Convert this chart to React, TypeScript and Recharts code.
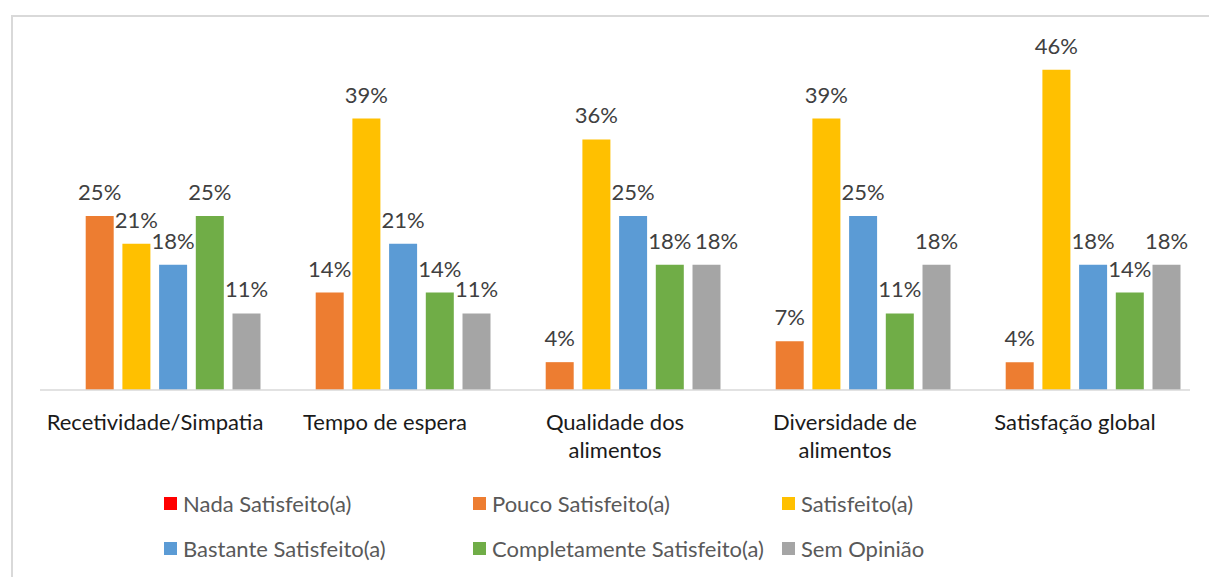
import React from "react";
import { BarChart, Bar, XAxis, YAxis, LabelList } from "recharts";

const categories = [
  "Recetividade/Simpatia",
  "Tempo de espera",
  "Qualidade dos alimentos",
  "Diversidade de alimentos",
  "Satisfação global",
];

const seriesNames = [
  "Nada Satisfeito(a)",
  "Pouco Satisfeito(a)",
  "Satisfeito(a)",
  "Bastante Satisfeito(a)",
  "Completamente Satisfeito(a)",
  "Sem Opinião",
];

const seriesColors = ["#FF0000", "#ED7D31", "#FFC000", "#5B9BD5", "#70AD47", "#A5A5A5"];

const nadaSatisfeito = [0, 0, 0, 0, 0];
const poucoSatisfeito = [25, 14, 4, 7, 4];
const satisfeito = [21, 39, 36, 39, 46];
const bastanteSatisfeito = [18, 21, 25, 25, 18];
const completamenteSatisfeito = [25, 14, 18, 11, 14];
const semOpiniao = [11, 11, 18, 18, 18];

const seriesValues = [
  nadaSatisfeito,
  poucoSatisfeito,
  satisfeito,
  bastanteSatisfeito,
  completamenteSatisfeito,
  semOpiniao,
];

const keys = ["s0", "s1", "s2", "s3", "s4", "s5"];

const data = categories.map((c, i) => {
  const row: any = { name: c };
  keys.forEach((k, j) => {
    row[k] = seriesValues[j][i];
  });
  return row;
});

const FONT = "Lato, 'Liberation Sans', sans-serif";

function wrap(text: string, max: number): string[] {
  const words = text.split(" ");
  const lines: string[] = [];
  let cur = "";
  words.forEach((w) => {
    const t = cur ? cur + " " + w : w;
    if (t.length > max && cur) {
      lines.push(cur);
      cur = w;
    } else cur = t;
  });
  if (cur) lines.push(cur);
  return lines;
}

const CategoryTick = (props: any) => {
  const { x, y, payload } = props;
  const lines = wrap(String(payload.value), 17);
  return (
    <g transform={`translate(${x},${y})`}>
      {lines.map((l, i) => (
        <text
          key={i}
          x={0}
          y={26 + i * 28}
          textAnchor="middle"
          dominantBaseline="middle"
          fill="#1a1a1a"
          fontSize={22}
          fontFamily={FONT}
        >
          {l}
        </text>
      ))}
    </g>
  );
};

// Value label; nudges right when the previous series in the same category
// has (nearly) the same value, so the two labels would collide.
const makeLabel = (seriesIdx: number) => (props: any) => {
  const { x, y, width, value, index } = props;
  const prev = seriesIdx > 1 ? seriesValues[seriesIdx - 1][index] : undefined;
  const collide = prev !== undefined && Math.abs(prev - value) <= 1;
  const cx = x + width / 2 + (collide ? 10 : 0);
  return (
    <text
      x={cx}
      y={y - 16}
      textAnchor="middle"
      fill="#404040"
      fontSize={22}
      fontFamily={FONT}
    >
      {`${value}%`}
    </text>
  );
};

export default function App() {
  return (
    <div style={{ position: "absolute", left: 0, top: 0, width: 1209, height: 577, background: "#fff", overflow: "hidden" }}>
      <div
        style={{
          position: "absolute",
          left: 11,
          top: 15,
          width: 1300,
          height: 700,
          borderTop: "2px solid #d9d9d9",
          borderLeft: "2px solid #d9d9d9",
        }}
      />
      <div style={{ position: "absolute", left: 0, top: 0 }}>
        <BarChart
          width={1209}
          height={577}
          data={data}
          margin={{ top: 42, right: 19, left: 40, bottom: 107 }}
          barCategoryGap={9}
          barGap={8.7}
        >
          <XAxis
            dataKey="name"
            height={80}
            axisLine={{ stroke: "#d9d9d9", strokeWidth: 1.5 }}
            tickLine={false}
            interval={0}
            tick={<CategoryTick />}
          />
          <YAxis hide domain={[0, 50]} />
          {keys.map((k, j) => (
            <Bar key={k} dataKey={k} fill={seriesColors[j]} isAnimationActive={false}>
              {j > 0 && <LabelList dataKey={k} content={makeLabel(j)} />}
            </Bar>
          ))}
        </BarChart>
      </div>
      {seriesNames.map((n, i) => {
        const col = i % 3;
        const row = Math.floor(i / 3);
        return (
          <div
            key={n}
            style={{
              position: "absolute",
              left: 164 + col * 309,
              top: 503 + row * 45 - 13,
              height: 26,
              display: "flex",
              alignItems: "center",
              fontFamily: FONT,
              fontSize: 22,
              color: "#595959",
              whiteSpace: "nowrap",
            }}
          >
            <span style={{ width: 13, height: 13, background: seriesColors[i], display: "inline-block", marginRight: 6 }} />
            {n}
          </div>
        );
      })}
    </div>
  );
}
